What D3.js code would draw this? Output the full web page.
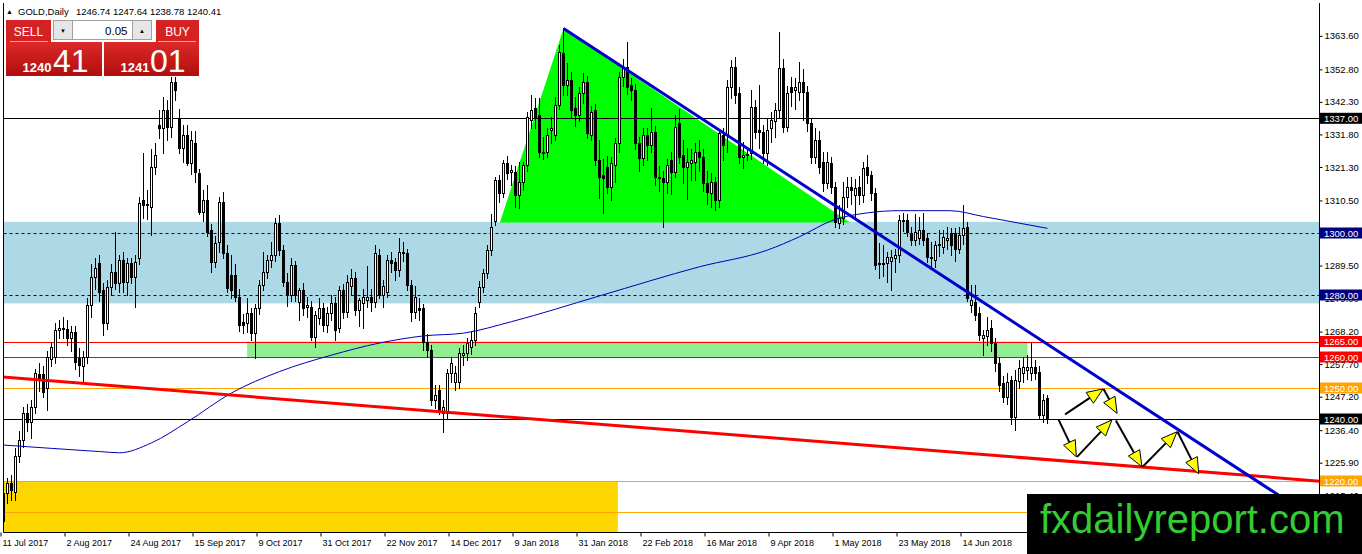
<!DOCTYPE html>
<html><head><meta charset="utf-8">
<script src="https://cdn.jsdelivr.net/npm/d3@7"></script>
<style>
html,body{margin:0;padding:0;background:#fff;overflow:hidden;}
svg{display:block;}
text{font-family:"Liberation Sans",Arial,sans-serif;}
</style></head><body>
<svg id="chart" width="1362" height="554"></svg>
<script>
// ---------- DATA ----------
const symbolTitle = "GOLD,Daily";
const lastBarText = "1246.74 1247.64 1238.78 1240.41";
const sellBig = ["1240", "41"];
const buyBig = ["1241", "01"];
const lotText = "0.05";

const dateLabels = ["11 Jul 2017","2 Aug 2017","24 Aug 2017","15 Sep 2017","9 Oct 2017","31 Oct 2017","22 Nov 2017","14 Dec 2017","9 Jan 2018","31 Jan 2018","22 Feb 2018","16 Mar 2018","9 Apr 2018","1 May 2018","23 May 2018","14 Jun 2018"];
const dateLabelIdx = [0,16,32,48,64,80,96,112,128,144,160,176,192,208,224,240];

const priceTicks = [1363.60,1352.80,1342.30,1331.80,1321.30,1310.50,1300.00,1289.50,1279.00,1268.20,1257.70,1247.20,1236.40,1225.90,1215.40];

const open = [
1207,1216,1219.5,1216.5,1228,1233.2,1242,1239,1244,1254.5,
1254.5,1250,1259.5,1260,1268.7,1269.5,1269,1266,1268.2,1259.6,
1257,1260.1,1276.8,1285.9,1290.2,1281.6,1270.9,1282.7,1287.5,1283.8,
1291.3,1284.3,1290.2,1285.9,1291.8,1310.6,1309,1308.5,1321.4,1334.8,
1333.8,1339.7,1334.3,1348.8,1337,1327.3,1331.6,1322.5,1329,1319.2,
1306.9,1310.6,1301,1290.7,1297.2,1310,1293.4,1286.4,1286.4,1279.5,
1271.4,1270.9,1274.1,1267.6,1275.7,1283.2,1287.5,1291.3,1292.9,1303.1,
1294.5,1284.3,1280.0,1289.7,1277.9,1281.6,1276.2,1276.2,1266.6,1272.5,
1275.7,1270.3,1274.1,1277.3,1269.3,1281.6,1274.6,1283,1285.5,1275.2,
1277.3,1278.4,1279.5,1277.9,1292.9,1280,1281,1291.3,1290.7,1288.1,
1293.4,1293.4,1283.2,1274.6,1275.7,1275.7,1265.0,1262.3,1246.1,1249.4,
1241.8,1241.8,1254.7,1252,1252.0,1260.7,1261.2,1263.3,1265.5,1277.9,
1282.7,1287.0,1294.5,1304,1317.1,1312.8,1322.5,1319.8,1319.8,1312.3,
1316.6,1321.9,1336.5,1340.2,1338.1,1326.2,1326.2,1333.2,1331.6,1341.3,
1358.0,1347.7,1349.4,1340.2,1338.1,1345.1,1348.8,1331.6,1339.7,1323.5,
1318.7,1321.4,1315.0,1321.9,1328.9,1350.4,1353.7,1347.7,1346.1,1328.9,
1324.1,1331.6,1328.4,1332.7,1318.2,1317.6,1316.6,1323.5,1319.8,1335.4,
1325.1,1321.4,1322.5,1323.0,1326.2,1324.6,1316.0,1312.8,1316.6,1310.6,
1331.6,1331.6,1347.2,1353.7,1345.1,1324.6,1325.1,1325.7,1340.7,1333.2,
1332.7,1325.7,1333.8,1336.0,1339.7,1353.1,1334.3,1347.2,1346.1,1345.6,
1348.8,1345.6,1335.4,1324.6,1330.0,1323.0,1316.0,1322.5,1315.0,1303.1,
1304.7,1311.7,1315.0,1312.3,1315.0,1312.3,1321.4,1318.7,1312.8,1290.2,
1290.0,1290.2,1291.0,1292.0,1292.9,1304.2,1304.2,1299.9,1297.7,1298.3,
1301.0,1298.3,1292.4,1291.3,1296.6,1295.6,1297.7,1299.9,1299.9,1295.0,
1299.4,1302.0,1276.8,1277.8,1274.1,1266.0,1266.7,1269.2,1264.4,1258.0,
1251.5,1247.2,1252.6,1240.7,1252.1,1254.7,1255.8,1254.7,1256.9,1255.3,
1241.3,1246.74];
const high = [
1218,1221,1222,1230.5,1236,1244,1245,1246,1256,1258,
1257,1262,1265,1271,1272,1273,1272,1270,1270,1263,
1262,1279,1290,1291.8,1293,1284,1285,1290,1300.4,1293,
1294,1292,1292,1293,1311.7,1325.7,1314,1327,1328.9,1339.7,
1344,1343,1351,1357.5,1340,1335,1335,1333,1333,1320.5,
1314,1315.5,1303,1299,1311.7,1313.3,1296,1293,1290,1282,
1274,1279,1275.7,1277,1285,1294,1293,1297,1305,1305.8,
1296,1287,1292,1291,1282.2,1284,1279.5,1278,1275,1279,
1277.5,1276,1280,1279.5,1283,1283.5,1286.5,1288.5,1287.5,1279,
1282,1289.2,1282,1296,1295,1285,1293,1294,1292,1298.3,
1297.2,1295,1285,1283,1279,1277,1267.5,1264,1251,1251,
1246,1256,1260,1257,1263,1264,1266,1268,1276,1284.5,
1288.5,1296,1306,1318,1318.7,1323.5,1325,1322,1321.5,1323,
1323,1339,1344.5,1343.5,1343.4,1331,1334,1337.5,1344,1360.5,
1366.0,1355,1352.0,1344,1347,1351.5,1350.5,1341,1341.5,1330,
1324,1325,1324.5,1330.5,1352,1356,1361.7,1350,1348,1331,
1334,1334,1340.2,1334.5,1321.5,1320,1324,1326,1338.1,1340,
1330,1327.5,1327,1329,1330,1327,1320,1319.5,1318,1333.5,
1334,1349.5,1355.8,1356.9,1347,1329.5,1327,1346,1343,1347.7,
1335,1337,1339,1342,1365.0,1356,1347.5,1350.4,1350,1355.3,
1353,1347.5,1337,1334,1333,1326,1326,1324.5,1316.5,1309,
1316.5,1318,1318,1317.5,1318.5,1323,1325.1,1320,1314.5,1296.7,
1296.1,1294,1294.5,1295,1305.8,1306.5,1306,1302,1306,1305.3,
1306.3,1300,1297.2,1297.5,1301,1301,1302,1301.5,1301.5,1302,
1309.0,1303.5,1283.2,1283.2,1276,1268.7,1273,1271.9,1266,1260,
1254,1255,1254,1255.8,1259,1260.1,1260.6,1265.0,1259,1257,
1248,1247.64];
const low = [
1205,1212.8,1214,1214,1226,1231,1236,1234,1242,1249,
1247,1242.9,1257,1258,1266,1266,1264,1262,1256,1254,
1251.5,1258,1273,1282,1278,1267,1269,1280,1282,1281,
1281,1280,1284,1276,1290,1304.7,1304.5,1299.4,1319,1330.5,
1325.7,1330,1331,1343,1325.7,1323,1322,1319,1316.5,1306,
1304,1299,1287.5,1289,1294,1292,1281,1279,1278,1268.5,
1267.6,1268,1265.5,1259.6,1274,1281.5,1285.5,1289,1291,1293,
1283,1276.5,1278,1278,1272,1273.5,1273,1265.5,1263.3,1270.5,
1268.5,1268,1272,1265.5,1268,1272.5,1273,1280,1273.5,1270,
1269.3,1276,1275,1276,1279,1276,1279.5,1287.5,1285,1286,
1291,1281.5,1271.5,1272.5,1272,1262.3,1260,1244.5,1243.5,1241.5,
1235.9,1240,1252,1249.5,1250,1257.5,1259,1261,1264,1276,
1281,1285.5,1293,1302.5,1310.1,1311.5,1317.5,1315.5,1308.5,1308.0,
1314,1320,1334,1334,1324.5,1324,1324.5,1329,1330,1340,
1344.5,1344.5,1337.5,1334.5,1336,1342,1330.5,1330,1322,1311.2,
1306.3,1313,1310.5,1316.5,1326,1347.5,1345,1343,1327,1320,
1322,1323.5,1326,1315.5,1313.5,1302.0,1313,1312.5,1318,1322.5,
1316,1311,1317,1317,1320,1313.5,1309.5,1308.5,1307.5,1308.5,
1323.5,1326,1343.5,1342,1322.5,1321,1323.5,1324,1330.5,1327.5,
1322.5,1322,1329.5,1331,1337,1332.5,1333,1341,1340,1343,
1336.5,1333,1322.5,1322.5,1319.5,1313.5,1314.5,1313,1302,1301.5,
1303,1308.5,1309.5,1305,1309.5,1310,1316,1310.5,1288.5,1285.4,
1286,1284.3,1281.6,1287.5,1290.5,1300.5,1299,1296,1296,1296.5,
1296,1290.5,1289.5,1289,1292.5,1293.5,1295,1293,1291,1293.5,
1296.5,1278.0,1274.6,1272,1265.5,1260.6,1264,1262,1255.5,1249,
1245.5,1245,1238.5,1236.5,1250,1252,1253,1252.5,1253,1240,
1239,1238.78];
const close = [
1216,1219.5,1217,1228,1233.2,1241.8,1239,1244,1254.7,1253,
1248.8,1260.1,1263.3,1268.7,1269.5,1269,1266,1268.2,1258.5,1257.4,
1260.1,1276.8,1285.9,1288.6,1281,1270.9,1282.7,1287.5,1283.8,1291.3,
1284.3,1290.2,1285.9,1290.7,1309.6,1309,1309.5,1321.4,1325.2,1334.0,
1339.7,1334.3,1348.8,1346.1,1327.3,1331.6,1322.5,1330,1319.8,1306.9,
1310.6,1300.4,1290.7,1296.7,1310,1293.4,1282.1,1281.6,1279.5,1270.3,
1270.3,1274.1,1267.6,1275.7,1283.2,1287.5,1291.3,1292.9,1303.1,1294.5,
1284.3,1280.0,1289.7,1280.0,1281.6,1275.7,1276.8,1266.6,1273.6,1275.7,
1270.3,1274.1,1277.3,1268.7,1281.6,1274.6,1284.3,1285.5,1275.2,1278.4,
1279.5,1279.5,1277.9,1293.4,1280.0,1283,1291.3,1290.2,1288.1,1294.0,
1294.0,1283.2,1274.6,1279.5,1275.2,1265.0,1262.3,1246.1,1247.7,1242.9,
1244.0,1254.7,1258.0,1254.7,1261.2,1261.2,1264.4,1265.5,1274.1,1282.7,
1287.0,1294.5,1302.0,1317.1,1312.8,1322.5,1319.2,1320.3,1312.3,1316.6,
1321.9,1337.5,1339.7,1337.5,1326.2,1325.7,1331.6,1333.8,1341.3,1358.5,
1347.7,1349.4,1339.7,1338.1,1345.1,1348.8,1332.1,1339.1,1323.5,1318.2,
1317.6,1315.0,1322.5,1328.9,1350.4,1353.7,1347.2,1346.1,1328.9,1324.1,
1331.6,1328.4,1332.7,1318.2,1317.6,1316.6,1321.9,1319.8,1334.3,1324.6,
1321.4,1323.0,1323.5,1326.2,1324.6,1316.0,1313.3,1316.6,1310.6,1332.1,
1328.4,1347.2,1353.7,1344.5,1324.6,1325.1,1325.4,1340.7,1332.7,1332.7,
1325.7,1333.2,1336.5,1339.7,1353.1,1334.3,1345.1,1345.6,1347.2,1348.8,
1345.6,1335.4,1324.6,1330.0,1321.4,1316.0,1323.0,1315.0,1303.7,1304.7,
1311.7,1315.0,1313.9,1314.5,1312.3,1320.9,1318.7,1312.8,1289.7,1289.9,
1290.3,1292.4,1292.4,1292.9,1304.2,1303.8,1300.4,1297.7,1300.4,1301.0,
1297.7,1292.4,1291.8,1296.1,1296.1,1298.8,1298.3,1296.1,1295.0,1299.4,
1301.5,1279.0,1278.4,1273.6,1267.1,1267.0,1268.7,1264.4,1258.0,1251.0,
1247.2,1252.0,1240.7,1252.6,1256.3,1256.8,1256.8,1256.9,1254.7,1241.3,
1246.1,1240.41];

// moving average line (bar index, price)
const maIdx   = [0,24,29,37,46,57,69,82,94,105,115,127,149,174,191,199,207.5,216,224,236.6,245,261];
const maPrice = [1231.6,1229.5,1229.1,1232.3,1239.1,1248.4,1255.3,1260.6,1264.5,1266.8,1267.7,1271.4,1279.7,1289.1,1294.5,1298.8,1304.2,1306.5,1307.2,1307.2,1305.3,1301.5];

// horizontal levels (label shown on the price axis when labelled)
const levelPrices = [1337,1300,1280,1265,1260,1250,1240,1220,1210];
const levelColors = ["#000000","#000080","#000080","#ff0000","#ff0000","#ffa500","#000000","#ffa500","#ffa500"];
const levelDashed = [false,true,true,false,false,false,false,false,false];
const levelLabelled = [true,true,true,true,true,true,true,true,false];

// filled boxes: yellow zone, light-blue zone, light-green zone
const boxStartIdx = [-2, -2, 60.9];
const boxEndIdx = [153.6, 340, 256];
const boxTopPrice = [1220, 1303.6, 1265];
const boxBottomPrice = [1190, 1277.3, 1260];
const boxColors = ["#ffd700", "#add8e6", "#90ee90"];

// triangle
const triIdx = [124.1, 140, 211.6];
const triPrice = [1303.4, 1366.0, 1303.4];

// trend lines
const blueLineIdx = [140, 318.7];
const blueLinePrice = [1366.0, 1215.5];
const redLineIdx = [0, 328.7];
const redLinePrice = [1253.5, 1220.0];

// projected zig-zag arrows
const arrowFromIdx   = [265.4, 275.0, 263.8, 268.4, 278.1, 284.8, 293.5];
const arrowFromPrice = [1241.5, 1249.7, 1239.7, 1227.8, 1239.5, 1224.6, 1235.9];
const arrowToIdx     = [274.9, 278.4, 268.2, 277.1, 284.6, 293.4, 298.8];
const arrowToPrice   = [1249.7, 1241.8, 1227.8, 1239.7, 1224.6, 1235.9, 1222.3];

const watermarkText = "fxdailyreport.com";

// ---------- DRAWING ----------
const svg = d3.select("#chart");
const PL = 3.5, PR = 1319.5, PT = 3, PB = 532.5;
const x = d3.scaleLinear().domain([0, 1]).range([3.5, 7.5]);      // 4 px per bar
const y = d3.scaleLinear().domain([1300, 1280]).range([233, 295]); // 3.1 px per unit
const crisp = v => Math.round(v) + 0.5;

const defs = svg.append("defs");
defs.append("clipPath").attr("id", "plotClip")
  .append("rect").attr("x", PL).attr("y", PT).attr("width", PR - PL).attr("height", PB - PT);
const grad = defs.append("linearGradient").attr("id", "redGrad")
  .attr("x1", 0).attr("y1", 0).attr("x2", 0).attr("y2", 1);
grad.append("stop").attr("offset", "0%").attr("stop-color", "#dd2828");
grad.append("stop").attr("offset", "100%").attr("stop-color", "#b10e0e");

const plot = svg.append("g").attr("clip-path", "url(#plotClip)");

// boxes
boxColors.forEach((c, i) => {
  const x0 = x(boxStartIdx[i]), x1 = x(boxEndIdx[i]);
  const y0 = y(boxTopPrice[i]), y1 = y(boxBottomPrice[i]);
  plot.append("rect").attr("x", x0).attr("y", y0)
    .attr("width", x1 - x0).attr("height", y1 - y0).attr("fill", c);
});

// triangle
plot.append("path")
  .attr("d", d3.line()(triIdx.map((d, i) => [x(d), y(triPrice[i])])) + "Z")
  .attr("fill", "#00ff00");

// horizontal levels
levelPrices.forEach((p, i) => {
  plot.append("line")
    .attr("x1", PL).attr("x2", PR)
    .attr("y1", crisp(y(p))).attr("y2", crisp(y(p)))
    .attr("stroke", levelColors[i]).attr("stroke-width", 1)
    .attr("stroke-dasharray", levelDashed[i] ? "3,3" : null);
});

// candles
const candles = plot.append("g");
open.forEach((o, i) => {
  const c = close[i];
  const h = Math.max(high[i], o, c), l = Math.min(low[i], o, c);
  const cx = x(i);
  candles.append("line").attr("x1", cx).attr("x2", cx)
    .attr("y1", Math.round(y(h))).attr("y2", Math.round(y(l)) + 1)
    .attr("stroke", "#000").attr("stroke-width", 1);
  const top = Math.round(y(Math.max(o, c)));
  const bot = Math.round(y(Math.min(o, c)));
  candles.append("rect")
    .attr("x", cx - 1).attr("y", top + 0.5)
    .attr("width", 2).attr("height", Math.max(bot - top, 0))
    .attr("fill", c >= o ? "#fff" : "#000")
    .attr("stroke", "#000").attr("stroke-width", 1);
});

// moving average
plot.append("path")
  .attr("d", d3.line().curve(d3.curveMonotoneX)(maIdx.map((d, i) => [x(d), y(maPrice[i])])))
  .attr("fill", "none").attr("stroke", "#0000b4").attr("stroke-width", 1);

// trend lines (extended as rays)
function rayPath(ix, ip, extendLeft) {
  const x0 = x(ix[0]), y0 = y(ip[0]), x1 = x(ix[1]), y1 = y(ip[1]);
  const k = (y1 - y0) / (x1 - x0);
  const xa = extendLeft ? -50 : x0, xb = 1500;
  return [[xa, y0 + k * (xa - x0)], [xb, y0 + k * (xb - x0)]];
}
plot.append("path").attr("d", d3.line()(rayPath(redLineIdx, redLinePrice, true)))
  .attr("stroke", "#ff0000").attr("stroke-width", 3).attr("fill", "none");
plot.append("path").attr("d", d3.line()(rayPath(blueLineIdx, blueLinePrice, false)))
  .attr("stroke", "#0000cd").attr("stroke-width", 3).attr("fill", "none");

// arrows
arrowFromIdx.forEach((d, i) => {
  const x1 = x(d), y1 = y(arrowFromPrice[i]);
  const x2 = x(arrowToIdx[i]), y2 = y(arrowToPrice[i]);
  const len = Math.hypot(x2 - x1, y2 - y1);
  const ux = (x2 - x1) / len, uy = (y2 - y1) / len;
  const L = 16, Wd = 6.5;
  const bx = x2 - ux * L, by = y2 - uy * L;
  plot.append("line").attr("x1", x1).attr("y1", y1).attr("x2", bx).attr("y2", by)
    .attr("stroke", "#000").attr("stroke-width", 2);
  plot.append("path")
    .attr("d", d3.line()([[x2, y2], [bx - uy * Wd, by + ux * Wd], [bx + uy * Wd, by - ux * Wd]]) + "Z")
    .attr("fill", "#ffff00").attr("stroke", "#000").attr("stroke-width", 1).attr("stroke-linejoin", "miter");
});

// frame
svg.append("line").attr("x1", PL).attr("x2", PL).attr("y1", PT).attr("y2", PB).attr("stroke", "#000");
svg.append("line").attr("x1", PR).attr("x2", PR).attr("y1", PT).attr("y2", PB).attr("stroke", "#000");
svg.append("line").attr("x1", PL).attr("x2", PR).attr("y1", PB).attr("y2", PB).attr("stroke", "#000");

// price axis
const yAxis = d3.axisRight(y).tickValues(priceTicks).tickFormat(d3.format(".2f")).tickSize(3).tickPadding(2);
const ya = svg.append("g").attr("transform", `translate(${PR},0)`).call(yAxis);
ya.select(".domain").remove();
ya.selectAll(".tick line").attr("stroke", "#000");
ya.selectAll(".tick text").attr("font-size", "9.5px").attr("fill", "#000")
  .attr("font-family", "'Liberation Sans',Arial,sans-serif");

// level labels on axis
levelPrices.forEach((p, i) => {
  if (!levelLabelled[i]) return;
  const yy = y(p);
  svg.append("rect").attr("x", 1320).attr("y", yy - 5.5).attr("width", 42).attr("height", 11)
    .attr("fill", levelColors[i]);
  svg.append("text").attr("x", 1324).attr("y", yy + 3.5).attr("font-size", "9.5px")
    .attr("fill", "#fff").text(d3.format(".2f")(p));
});

// time axis
const xt = d3.scaleLinear().domain([0, 1]).range([0.5, 4.5]);
const xAxis = d3.axisBottom(xt).tickValues(dateLabelIdx)
  .tickFormat((d, i) => dateLabels[i]).tickSize(4).tickPadding(3);
const xa = svg.append("g").attr("transform", `translate(0,${PB})`).call(xAxis);
xa.select(".domain").remove();
xa.selectAll(".tick line").attr("stroke", "#000");
xa.selectAll(".tick text").attr("text-anchor", "start").attr("dx", "1.5")
  .attr("font-size", "9px").attr("fill", "#000")
  .attr("font-family", "'Liberation Sans',Arial,sans-serif");

// header
svg.append("text").attr("x", 6).attr("y", 14).attr("font-size", "7px").attr("fill", "#000").text("▲");
svg.append("text").attr("x", 18).attr("y", 14.5).attr("font-size", "9.5px").attr("fill", "#000").text(symbolTitle);
svg.append("text").attr("x", 76).attr("y", 14.5).attr("font-size", "9.5px").attr("fill", "#000").text(lastBarText);

// one-click trading panel
const panel = svg.append("g");
panel.append("rect").attr("x", 5).attr("y", 19).attr("width", 195).attr("height", 58).attr("fill", "#fff");
panel.append("rect").attr("x", 6).attr("y", 20).attr("width", 45).attr("height", 22).attr("fill", "#d42222");
panel.append("rect").attr("x", 156).attr("y", 20).attr("width", 43).attr("height", 22).attr("fill", "#d42222");
panel.append("rect").attr("x", 6).attr("y", 42).attr("width", 96).attr("height", 34).attr("fill", "url(#redGrad)");
panel.append("rect").attr("x", 104).attr("y", 42).attr("width", 95).attr("height", 34).attr("fill", "url(#redGrad)");
panel.append("line").attr("x1", 10).attr("x2", 48).attr("y1", 41.5).attr("y2", 41.5).attr("stroke", "#f2a0a0");
panel.append("line").attr("x1", 158).attr("x2", 196).attr("y1", 41.5).attr("y2", 41.5).attr("stroke", "#f2a0a0");
panel.append("rect").attr("x", 53.5).attr("y", 20.5).attr("width", 98).attr("height", 19).attr("fill", "#fff").attr("stroke", "#a0a0a0");
panel.append("rect").attr("x", 53.5).attr("y", 20.5).attr("width", 19).attr("height", 19).attr("fill", "#e6e6e6").attr("stroke", "#a0a0a0");
panel.append("rect").attr("x", 132.5).attr("y", 20.5).attr("width", 19).attr("height", 19).attr("fill", "#e6e6e6").attr("stroke", "#a0a0a0");
panel.append("text").attr("x", 63).attr("y", 33).attr("text-anchor", "middle").attr("font-size", "6px").attr("fill", "#000").text("▼");
panel.append("text").attr("x", 142).attr("y", 33).attr("text-anchor", "middle").attr("font-size", "6px").attr("fill", "#000").text("▲");
panel.append("text").attr("x", 127.5).attr("y", 35).attr("text-anchor", "end").attr("font-size", "11.5px").attr("fill", "#000").text(lotText);
panel.append("text").attr("x", 28.5).attr("y", 36).attr("text-anchor", "middle").attr("font-size", "12px").attr("fill", "#fff").text("SELL");
panel.append("text").attr("x", 177.5).attr("y", 36).attr("text-anchor", "middle").attr("font-size", "12px").attr("fill", "#fff").text("BUY");
panel.append("text").attr("x", 22.5).attr("y", 71.5).attr("font-size", "13px").attr("font-weight", "bold").attr("fill", "#fff").text(sellBig[0]);
panel.append("text").attr("x", 53).attr("y", 72).attr("font-size", "32px").attr("fill", "#fff").text(sellBig[1]);
panel.append("text").attr("x", 120.5).attr("y", 71.5).attr("font-size", "13px").attr("font-weight", "bold").attr("fill", "#fff").text(buyBig[0]);
panel.append("text").attr("x", 150).attr("y", 72).attr("font-size", "32px").attr("fill", "#fff").text(buyBig[1]);

// watermark
svg.append("rect").attr("x", 1027).attr("y", 494).attr("width", 335).attr("height", 60).attr("fill", "#000");
svg.append("text").attr("x", 1040).attr("y", 533).attr("font-size", "40px").attr("fill", "#33cc33").text(watermarkText);
</script>
</body></html>
